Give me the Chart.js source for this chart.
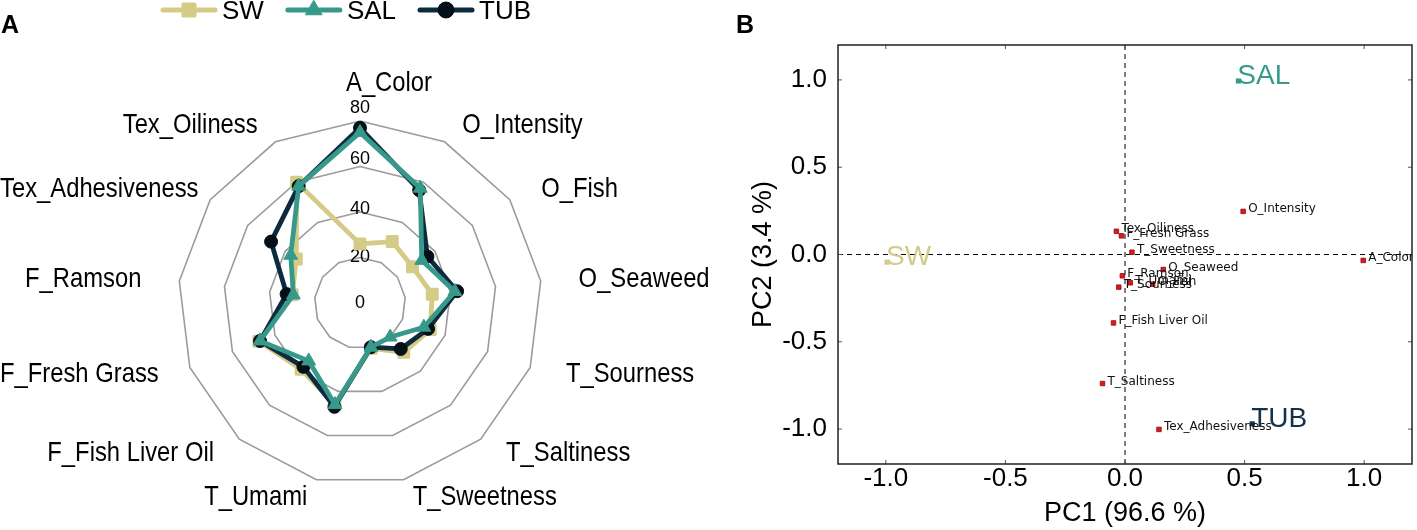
<!DOCTYPE html>
<html>
<head>
<meta charset="utf-8">
<script src="https://cdn.jsdelivr.net/npm/chart.js@4.4.1/dist/chart.umd.min.js"></script>
<style>
  html, body { margin: 0; padding: 0; background: #fff; }
  #wrap { position: relative; width: 1417px; height: 530px; overflow: hidden; }
  .panel { position: absolute; top: 0; height: 530px; }
  #radarBox { left: 0; width: 720px; }
  #pcaBox { left: 720px; width: 697px; }
</style>
</head>
<body>
<div id="wrap">
  <div class="panel" id="radarBox"><canvas id="radar"></canvas></div>
  <div class="panel" id="pcaBox"><canvas id="pca"></canvas></div>
</div>
<script>
// ---- data ----
const attributes = ['A_Color', 'O_Intensity', 'O_Fish', 'O_Seaweed', 'T_Sourness', 'T_Saltiness',
  'T_Sweetness', 'T_Umami', 'F_Fish Liver Oil', 'F_Fresh Grass', 'F_Ramson', 'Tex_Adhesiveness', 'Tex_Oiliness'];
const swScores  = [26, 30.5, 28, 32, 33, 29, 20.5, 46, 39, 47.5, 30, 34, 60];
const salScores = [75, 57, 33, 42, 30, 20, 20, 46, 34, 47, 29.5, 37, 58];
const tubScores = [77, 56, 36, 43, 32, 27, 20, 47, 37.5, 47, 32.5, 47.5, 58];
const radarTicks = [0, 20, 40, 60, 80];

// PCA loadings (same order as attributes)
const loadX = [0.996, 0.494, 0.116, 0.160, -0.026, -0.094, 0.029, 0.022, -0.048, -0.015, -0.011, 0.142, -0.036];
const loadY = [-0.034, 0.247, -0.170, -0.086, -0.187, -0.739, 0.013, -0.162, -0.392, 0.107, -0.122, -1.002, 0.133];
const groups = ['SW', 'SAL', 'TUB'];
const groupX = [-0.995, 0.474, 0.532];
const groupY = [-0.044, 0.994, -0.970];
const pcTicks = [-1.0, -0.5, 0.0, 0.5, 1.0];

const FONT = '"Liberation Sans", Arial, Helvetica, sans-serif';
const colors = { SW: '#d3cb86', SAL: '#36998a', TUB: '#0d2b3e' };
const pointColors = { SW: '#d3cb86', SAL: '#36998a', TUB: '#050f18' };
// [pointStyle, radius, borderWidth]
const styles = { SW: ['rect', 7, 3], SAL: ['triangle', 8, 1], TUB: ['circle', 6.5, 1] };

// ---- panel A: radar ----
const radarText = {
  id: 'radarText',
  beforeDatasetsDraw(chart) {
    const r = chart.scales.r, ctx = chart.ctx;
    ctx.save();
    ctx.fillStyle = '#000';
    ctx.font = '18px ' + FONT;
    ctx.textAlign = 'center';
    ctx.textBaseline = 'middle';
    radarTicks.forEach(v => {
      const d = r.getDistanceFromCenterForValue(v) + 13 * Math.pow(v / 80, 2);
      ctx.fillText(String(v), r.xCenter, r.yCenter - d);
    });
    ctx.restore();
    // rounded corners on square markers
    ctx.lineJoin = 'round';
  },
  afterDraw(chart) {
    const r = chart.scales.r, ctx = chart.ctx;
    ctx.save();
    ctx.fillStyle = '#000';
    ctx.textBaseline = 'middle';
    ctx.font = '28px ' + FONT;
    const sx = 0.85;
    attributes.forEach((name, i) => {
      const p = r.getPointPosition(i, r.drawingArea);
      let x = r.xCenter + (p.x - r.xCenter) * 1.21;
      let y = r.yCenter + (p.y - r.yCenter) * 1.1;
      let align = i <= 6 ? 'left' : 'right';
      if (i === 0) { align = 'center'; x += 29; y -= 20; }
      const w = ctx.measureText(name).width * sx;
      if (align === 'right' && x - w < 0) x = w;
      if (align === 'left' && x + w > chart.width) x = chart.width - w;
      ctx.save();
      ctx.translate(x, y);
      ctx.scale(sx, 1);
      ctx.textAlign = align;
      ctx.fillText(name, 0, 0);
      ctx.restore();
    });

    // legend: line + marker + name
    let lx = 163;
    const ly = 10;
    ctx.font = '26px ' + FONT;
    ctx.textAlign = 'left';
    ctx.textBaseline = 'alphabetic';
    groups.forEach(g => {
      ctx.strokeStyle = colors[g];
      ctx.lineWidth = 5;
      ctx.lineCap = 'round';
      ctx.beginPath(); ctx.moveTo(lx, ly); ctx.lineTo(lx + 52, ly); ctx.stroke();
      ctx.fillStyle = pointColors[g];
      ctx.strokeStyle = pointColors[g];
      ctx.lineWidth = styles[g][2];
      ctx.lineJoin = 'round';
      Chart.helpers.drawPoint(ctx, { pointStyle: styles[g][0], radius: styles[g][1] + 1.5, rotation: 0, borderWidth: styles[g][2] }, lx + 26, ly);
      ctx.fillStyle = '#000';
      ctx.fillText(g, lx + 59, 18.5);
      lx += 59 + ctx.measureText(g).width + 24;
    });

    ctx.font = 'bold 25px ' + FONT;
    ctx.fillText('A', 1, 33);
    ctx.restore();
  }
};

const radarSets = [
  { key: 'SW', data: swScores, order: 2 },
  { key: 'SAL', data: salScores, order: 0 },
  { key: 'TUB', data: tubScores, order: 1 }
].map(s => ({
  label: s.key,
  data: s.data,
  order: s.order,
  borderColor: colors[s.key],
  borderWidth: 4.8,
  backgroundColor: pointColors[s.key],
  fill: false,
  pointStyle: styles[s.key][0],
  pointRadius: styles[s.key][1],
  pointBackgroundColor: pointColors[s.key],
  pointBorderColor: pointColors[s.key],
  pointBorderWidth: styles[s.key][2],
  borderJoinStyle: 'round'
}));

new Chart(document.getElementById('radar'), {
  type: 'radar',
  data: { labels: attributes, datasets: radarSets },
  options: {
    responsive: true,
    maintainAspectRatio: false,
    animation: false,
    events: [],
    layout: { padding: { left: 177.5, right: 177.5, top: 121, bottom: 44 } },
    plugins: { legend: { display: false }, tooltip: { enabled: false } },
    elements: { line: { tension: 0 } },
    scales: {
      r: {
        min: 0, max: 80,
        ticks: { stepSize: 20, display: false },
        pointLabels: { display: false },
        angleLines: { display: false },
        grid: { circular: false, color: '#9b9b9b', lineWidth: 1.6 }
      }
    }
  },
  plugins: [radarText]
});

// ---- panel B: PCA biplot ----
const pcaDecor = {
  id: 'pcaDecor',
  beforeDatasetsDraw(chart) {
    const { ctx, chartArea: a, scales: { x, y } } = chart;
    ctx.save();
    ctx.strokeStyle = '#000';
    ctx.lineWidth = 1;
    ctx.setLineDash([5, 4]);
    const x0 = x.getPixelForValue(0), y0 = y.getPixelForValue(0);
    ctx.beginPath();
    ctx.moveTo(x0, a.top); ctx.lineTo(x0, a.bottom);
    ctx.moveTo(a.left, y0); ctx.lineTo(a.right, y0);
    ctx.stroke();
    ctx.setLineDash([]);
    ctx.strokeStyle = '#555';
    ctx.beginPath();
    pcTicks.forEach(v => {
      const px = x.getPixelForValue(v), py = y.getPixelForValue(v);
      ctx.moveTo(px, a.bottom); ctx.lineTo(px, a.bottom - 4);
      ctx.moveTo(px, a.top); ctx.lineTo(px, a.top + 4);
      ctx.moveTo(a.left, py); ctx.lineTo(a.left + 4, py);
      ctx.moveTo(a.right, py); ctx.lineTo(a.right - 4, py);
    });
    ctx.stroke();
    ctx.strokeStyle = '#222';
    ctx.lineWidth = 1.5;
    ctx.strokeRect(a.left, a.top, a.right - a.left, a.bottom - a.top);
    ctx.restore();
  },
  afterDatasetsDraw(chart) {
    const { ctx, chartArea: a } = chart;
    ctx.save();
    ctx.beginPath();
    ctx.rect(a.left, a.top, a.right - a.left, a.bottom - a.top);
    ctx.clip();
    ctx.textAlign = 'left';
    ctx.textBaseline = 'alphabetic';
    ctx.font = '12px "DejaVu Sans", sans-serif';
    ctx.fillStyle = '#111';
    chart.getDatasetMeta(0).data.forEach((el, i) => {
      ctx.fillText(attributes[i], el.x + 5, el.y + 1);
    });
    ctx.font = '28px ' + FONT;
    groups.forEach((g, gi) => {
      const el = chart.getDatasetMeta(gi + 1).data[0];
      ctx.fillStyle = g === 'TUB' ? '#14324a' : colors[g];
      ctx.fillText(g, el.x - 1, el.y + 3);
    });
    ctx.restore();
    ctx.save();
    ctx.fillStyle = '#000';
    ctx.font = 'bold 25px ' + FONT;
    ctx.fillText('B', 16, 33);
    ctx.restore();
  }
};

const pcaSets = [{
  label: 'loadings',
  data: loadX.map((v, i) => ({ x: v, y: loadY[i] })),
  pointStyle: 'rect',
  pointRadius: 3.2,
  backgroundColor: '#e3161b',
  borderColor: '#8a0d10',
  borderWidth: 0.8
}].concat(groups.map((g, i) => ({
  label: g,
  data: [{ x: groupX[i], y: groupY[i] }],
  pointStyle: 'rect',
  pointRadius: 3.6,
  backgroundColor: g === 'TUB' ? '#14324a' : colors[g],
  borderColor: g === 'TUB' ? '#14324a' : colors[g],
  borderWidth: 0
})));

const tickFont = { size: 26, family: FONT };
const titleFont = { size: 27, family: FONT };

new Chart(document.getElementById('pca'), {
  type: 'scatter',
  data: { datasets: pcaSets },
  options: {
    responsive: true,
    maintainAspectRatio: false,
    animation: false,
    events: [],
    layout: { padding: { left: 0, right: 5, top: 45, bottom: 0 } },
    plugins: { legend: { display: false }, tooltip: { enabled: false } },
    scales: {
      x: {
        type: 'linear', min: -1.2, max: 1.2,
        afterBuildTicks: s => { s.ticks = pcTicks.map(v => ({ value: v })); },
        afterFit: s => { s.height = 66; },
        grid: { display: false, drawTicks: false },
        border: { display: false },
        ticks: { font: tickFont, color: '#000', padding: -1, maxRotation: 0, callback: v => Number(v).toFixed(1) },
        title: { display: true, text: 'PC1 (96.6 %)', font: titleFont, color: '#000', padding: { top: 0, bottom: 0 } }
      },
      y: {
        type: 'linear', min: -1.2, max: 1.2,
        afterBuildTicks: s => { s.ticks = pcTicks.map(v => ({ value: v })); },
        afterFit: s => { s.width = 118; },
        grid: { display: false, drawTicks: false },
        border: { display: false },
        ticks: { font: tickFont, color: '#000', padding: 11, callback: v => Number(v).toFixed(1) },
        title: { display: true, text: 'PC2 (3.4 %)', font: titleFont, color: '#000', padding: { top: 27, bottom: 0 } }
      }
    }
  },
  plugins: [pcaDecor]
});
</script>
</body>
</html>
